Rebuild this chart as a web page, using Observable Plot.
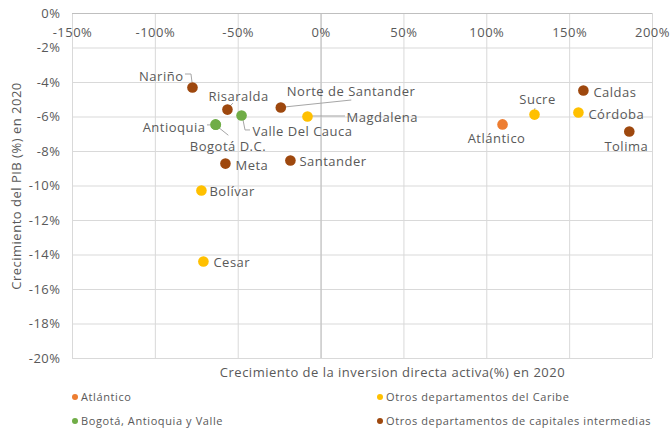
<!DOCTYPE html>
<html>
<head>
<meta charset="utf-8">
<script src="https://cdn.jsdelivr.net/npm/d3@7"></script>
<script src="https://cdn.jsdelivr.net/npm/@observablehq/plot@0.6"></script>
<style>
  body { margin: 0; background: #fff; font-family: "Open Sans", sans-serif; }
  #chart { width: 671px; }
  .legend { position: relative; width: 671px; height: 48px; font-size: 11px; letter-spacing: 0.6px; color: #595959; }
  .legend .item { position: absolute; display: flex; align-items: center; white-space: nowrap; }
  .legend .dot { width: 6px; height: 6px; border-radius: 50%; margin-right: 3px; }
</style>
</head>
<body>
<div id="chart"></div>
<script>
// ---- data ----
const departments = ["Nariño", "Risaralda", "Norte de Santander", "Antioquia", "Bogotá D.C.", "Valle Del Cauca",
  "Magdalena", "Meta", "Santander", "Bolívar", "Cesar", "Atlántico", "Sucre", "Caldas", "Córdoba", "Tolima"];
const investmentGrowth = [-77.6, -56.5, -24.3, -63.7, -63.5, -48.0, -8.2, -57.7, -18.5, -72.2, -71.0, 109.5, 128.8, 158.3, 155.3, 186.0];
const gdpGrowth = [-4.29, -5.57, -5.45, -6.43, -6.45, -5.91, -5.97, -8.70, -8.52, -10.26, -14.38, -6.43, -5.86, -4.46, -5.74, -6.84];
const groupOf = ["Otros departamentos de capitales intermedias", "Otros departamentos de capitales intermedias",
  "Otros departamentos de capitales intermedias", "Bogotá, Antioquia y Valle", "Bogotá, Antioquia y Valle",
  "Bogotá, Antioquia y Valle", "Otros departamentos del Caribe", "Otros departamentos de capitales intermedias",
  "Otros departamentos de capitales intermedias", "Otros departamentos del Caribe", "Otros departamentos del Caribe",
  "Atlántico", "Otros departamentos del Caribe", "Otros departamentos de capitales intermedias",
  "Otros departamentos del Caribe", "Otros departamentos de capitales intermedias"];
const groups = ["Atlántico", "Otros departamentos del Caribe", "Bogotá, Antioquia y Valle", "Otros departamentos de capitales intermedias"];
const groupColors = ["#ED7D31", "#FFC000", "#70AD47", "#9E480E"];
const xTicks = [-150, -100, -50, 0, 50, 100, 150, 200];
const yTicks = [0, -2, -4, -6, -8, -10, -12, -14, -16, -18, -20];
const xTitle = "Crecimiento de la inversion directa activa(%) en 2020";
const yTitle = "Crecimiento del PIB (%) en 2020";

// ---- label layout (pixel offsets from each point) ----
const labelLayout = {
  "Nariño": {dx: -9, dy: -11, anchor: "end", leader: [[-7, -13], [-1, -13], [0, -5]]},
  "Risaralda": {dx: -19, dy: -13, anchor: "start", leader: [[6, -6], [2, -2]]},
  "Norte de Santander": {dx: 6, dy: -16, anchor: "start", leader: [[4, 0], [71, -7]]},
  "Antioquia": {dx: -10, dy: 3, anchor: "end", leader: [[-8, 1], [-5, 1]]},
  "Bogotá D.C.": {dx: -26, dy: 22, anchor: "start", leader: [[3, 3], [13, 11]]},
  "Valle Del Cauca": {dx: 11, dy: 16, anchor: "start", leader: [[2, 5], [4, 15], [9, 15]]},
  "Magdalena": {dx: 39, dy: 1, anchor: "start", leader: [[5, 0], [38, 0]]},
  "Meta": {dx: 10, dy: 2, anchor: "start"},
  "Santander": {dx: 9, dy: 1, anchor: "start"},
  "Bolívar": {dx: 8, dy: 1, anchor: "start"},
  "Cesar": {dx: 10, dy: 1, anchor: "start"},
  "Atlántico": {dx: -6, dy: 14, anchor: "middle"},
  "Sucre": {dx: 3, dy: -15, anchor: "middle", leader: [[1, -6], [0, -3]]},
  "Caldas": {dx: 10, dy: 2, anchor: "start"},
  "Córdoba": {dx: 10, dy: 2, anchor: "start"},
  "Tolima": {dx: -3, dy: 15, anchor: "middle"}
};

const rows = departments.map((name, i) => ({name, x: investmentGrowth[i], y: gdpGrowth[i], group: groupOf[i]}));
const textColor = "#595959";
const font = "Open Sans, sans-serif";

function leaderMark(index, scales) {
  const g = d3.create("svg:g").attr("fill", "none").attr("stroke", "#a6a6a6").attr("stroke-width", 1);
  for (const r of rows) {
    const L = labelLayout[r.name];
    if (!L || !L.leader) continue;
    const px = scales.x(r.x), py = scales.y(r.y);
    g.append("path").attr("d", d3.line()(L.leader.map(([dx, dy]) => [px + dx, py + dy])));
  }
  return g.node();
}

// individual label marks so each can carry its own pixel offset
const labelMarks = rows.map(r => {
  const L = labelLayout[r.name];
  return Plot.text([r], {x: "x", y: "y", text: "name", textAnchor: L.anchor, dx: L.dx, dy: L.dy,
    fill: textColor, fontSize: 13, fontFamily: font});
});

const chart = Plot.plot({
  width: 671,
  height: 383,
  marginLeft: 72,
  marginRight: 19,
  marginTop: 13,
  marginBottom: 25,
  style: {fontFamily: font, color: textColor, background: "#fff", letterSpacing: "0.5px"},
  x: {domain: [-150, 200], axis: null},
  y: {domain: [-20, 0], axis: null},
  color: {domain: groups, range: groupColors},
  marks: [
    Plot.gridX(xTicks, {stroke: "#d9d9d9", strokeOpacity: 1}),
    Plot.gridY(yTicks, {stroke: "#d9d9d9", strokeOpacity: 1}),
    Plot.ruleX([0], {stroke: "#bfbfbf"}),
    Plot.ruleY([0], {stroke: "#bfbfbf"}),
    Plot.axisY(yTicks, {anchor: "left", tickSize: 0, tickPadding: 12, tickFormat: d => d + "%", fontSize: 13, fill: textColor, label: null}),
    Plot.text(xTicks, {x: d => d, y: () => 0, dy: 19, text: d => d + "%", fontSize: 13, fill: textColor}),
    Plot.text([yTitle], {frameAnchor: "left", textAnchor: "middle", rotate: -90, dx: -56, fontSize: 13, fill: textColor}),
    Plot.text([xTitle], {frameAnchor: "bottom", textAnchor: "middle", lineAnchor: "middle", dx: 30, dy: 14, fontSize: 13, fill: textColor}),
    leaderMark,
    Plot.dot(rows, {x: "x", y: "y", fill: "group", r: 5.3, stroke: null}),
    ...labelMarks
  ]
});
document.getElementById("chart").appendChild(chart);

// ---- legend ----
const legend = document.createElement("div");
legend.className = "legend";
const legendPos = [[72, 6], [377, 6], [72, 30], [377, 30]];
groups.forEach((g, i) => {
  const item = document.createElement("div");
  item.className = "item";
  item.style.left = legendPos[i][0] + "px";
  item.style.top = legendPos[i][1] + "px";
  const dot = document.createElement("span");
  dot.className = "dot";
  dot.style.background = groupColors[i];
  const label = document.createElement("span");
  label.textContent = g;
  item.appendChild(dot);
  item.appendChild(label);
  legend.appendChild(item);
});
document.body.appendChild(legend);
</script>
</body>
</html>
